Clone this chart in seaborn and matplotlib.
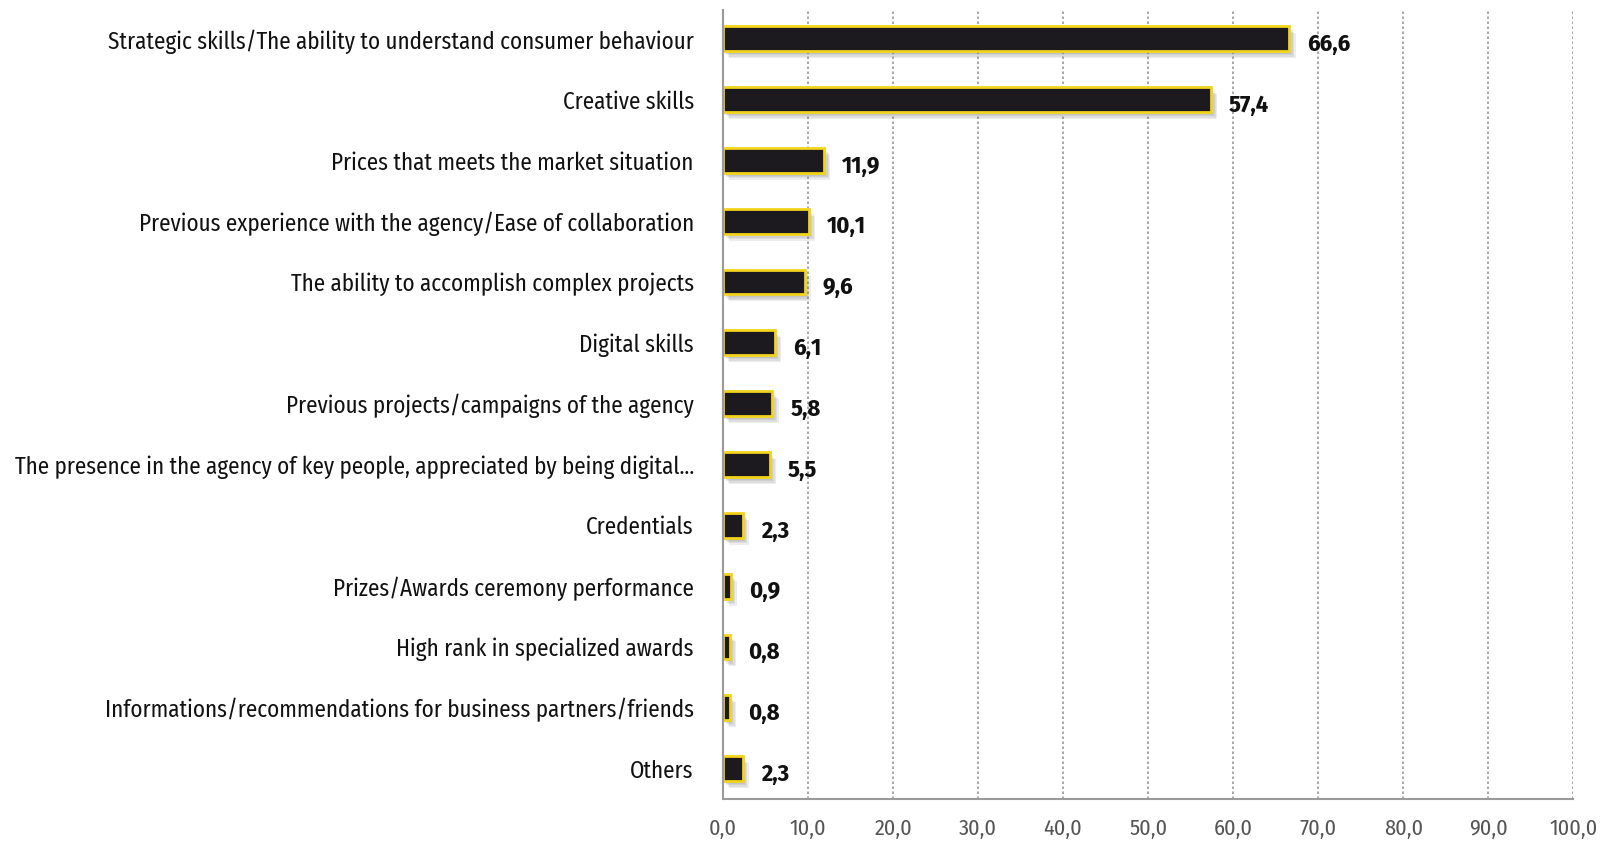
import matplotlib
matplotlib.use("Agg")
import matplotlib.pyplot as plt
import matplotlib.patheffects as pe
import seaborn as sns
import pandas as pd

categories = [
    "Strategic skills/The ability to understand consumer behaviour",
    "Creative skills",
    "Prices that meets the market situation",
    "Previous experience with the agency/Ease of collaboration",
    "The ability to accomplish complex projects",
    "Digital skills",
    "Previous projects/campaigns of the agency",
    "The presence in the agency of key people, appreciated by being digital\u2026",
    "Credentials",
    "Prizes/Awards ceremony performance",
    "High rank in specialized awards",
    "Informations/recommendations for business partners/friends",
    "Others",
]
values = [66.6, 57.4, 11.9, 10.1, 9.6, 6.1, 5.8, 5.5, 2.3, 0.9, 0.8, 0.8, 2.3]
x_ticks = [0, 10, 20, 30, 40, 50, 60, 70, 80, 90, 100]

df = pd.DataFrame({"category": categories, "value": values})

sns.set_theme(style="white")
plt.rcParams["font.family"] = ["Fira Sans Condensed", "DejaVu Sans"]

fig = plt.figure(figsize=(16.12, 8.42), dpi=100)
ax = fig.add_axes([0.4485, 0.051, 0.5275, 0.937])

sns.barplot(data=df, x="value", y="category", orient="h", ax=ax,
            color="#1c1a1f", width=0.41, edgecolor="#f2d41c", linewidth=2.0,
            saturation=1)

# soft drop shadow under each bar
shadow = [pe.SimplePatchShadow(offset=(1.5 + i, -2 - i), shadow_rgbFace="#6f6f6f",
                               alpha=0.12) for i in range(4)]
for bar in ax.patches:
    bar.set_path_effects(shadow + [pe.Normal()])

for i, v in enumerate(values):
    ax.annotate(f"{v:.1f}".replace(".", ","), xy=(v, i), xytext=(13, -4),
                textcoords="offset points", ha="left", va="center",
                fontsize=17.5, fontweight="bold", color="#111111")

ax.set_xlim(0, 100)
ax.set_ylim(12.5, -0.47)
ax.set_xticks(x_ticks)
ax.set_xticklabels([f"{t:.1f}".replace(".", ",") for t in x_ticks],
                   fontsize=16, color="#555555")
ax.tick_params(axis="x", length=0, pad=14)
ax.tick_params(axis="y", length=0, pad=21, labelsize=16.6, labelcolor="#111111")
ax.set_xlabel("")
ax.set_ylabel("")
ax.xaxis.grid(True, linestyle=(0, (1.5, 1.5)), color="#999999", linewidth=1.2)
ax.set_axisbelow(True)
for side in ("top", "right"):
    ax.spines[side].set_visible(False)
for side in ("left", "bottom"):
    ax.spines[side].set_color("#9a9a9a")
    ax.spines[side].set_linewidth(1.5)

fig.savefig("out.png", dpi=100)
